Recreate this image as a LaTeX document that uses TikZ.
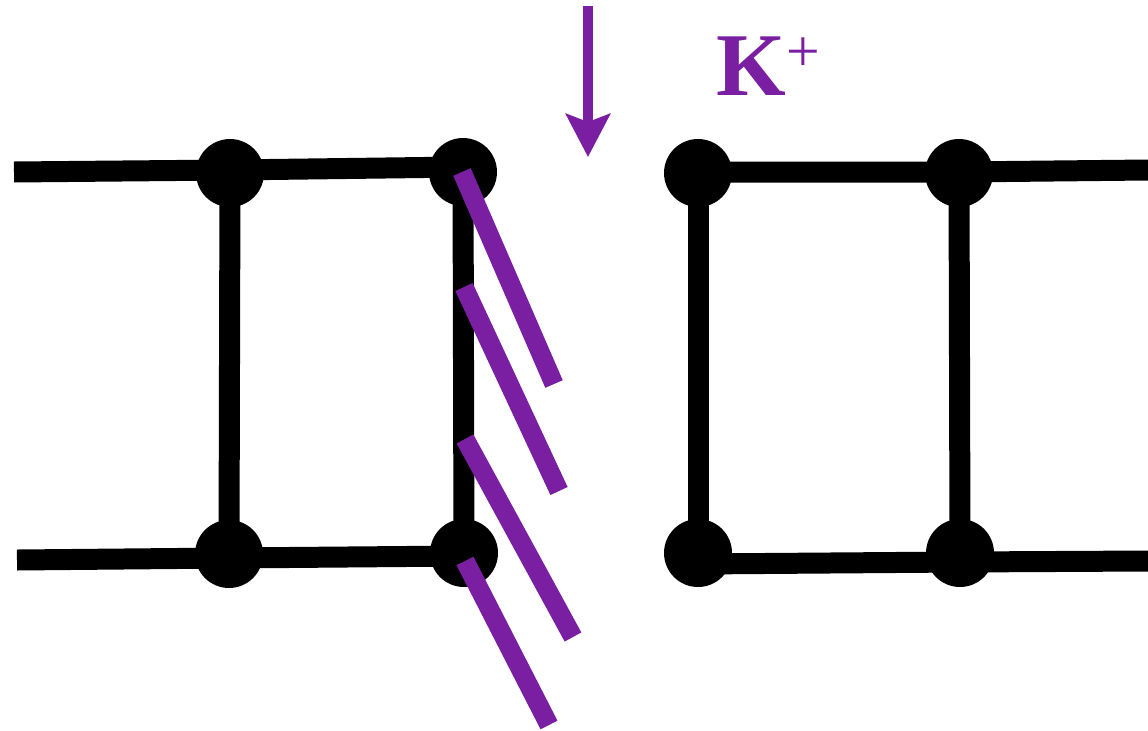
\documentclass[tikz,border=0pt]{standalone}
\usepackage{fontspec}
\setmainfont{Liberation Serif}
\usetikzlibrary{arrows.meta,calc}
\definecolor{kpurple}{RGB}{123,31,162}
\begin{document}
\begin{tikzpicture}[x=0.02cm, y=-0.02cm,
	joint/.style={circle, fill, inner sep=0, minimum size=1.36cm},
	rail/.style={line width=0.42cm},
	bar/.style={kpurple, line width=0.38cm},
	inflow/.style={kpurple, line width=0.2cm,
		-{Stealth[length=0.86cm, width=0.88cm, inset=0.16cm]}}]
\useasboundingbox (0,0) rectangle (1148,730);
\node[joint] (a1) at (230,173) {};
\node[joint] (a2) at (463,172) {};
\node[joint] (b1) at (229,554) {};
\node[joint] (b2) at (464,553) {};
\node[joint] (c1) at (698,173) {};
\node[joint] (c2) at (959,173) {};
\node[joint] (d1) at (698,553) {};
\node[joint] (d2) at (960,553) {};
\coordinate (e1) at (14,172);
\coordinate (e2) at (17,560);
\coordinate (e3) at (1148,170);
\coordinate (e4) at (1148,561);
% rails
\draw[rail] (e1) -- ($(a1)+(0,-3)$) -- ($(a2)+(0,-5)$);
\draw[rail] (e2) -- ($(b1)+(0,4)$) -- ($(b2)+(0,3)$);
\draw[rail] ($(c1)+(0,-1)$) -- ($(c2)+(0,-1)$) -- (e3);
\draw[rail] ($(d1)+(0,11)$) -- ($(d2)+(0,9)$) -- (e4);
\foreach \t/\b in {a1/b1,a2/b2,c1/d1,c2/d2}
	\draw[rail] (\t.center) -- (\b.center);
% bars
\foreach \xa/\ya/\xb/\yb in {462/172/554/384, 464/287/559/491,
		465/439/573/637, 465/561/549/725}
	\draw[bar] (\xa,\ya) -- (\xb,\yb);
% ion
\coordinate (src) at (588,6);
\coordinate (dst) at (588,157);
\draw[inflow] (src) -- (dst);
\node[kpurple, anchor=base west, inner sep=0] (ion) at (716,95)
	{\fontsize{51}{51}\selectfont\bfseries K\raisebox{13.6pt}{\fontsize{34}{34}\selectfont\mdseries +}};
\end{tikzpicture}
\end{document}
